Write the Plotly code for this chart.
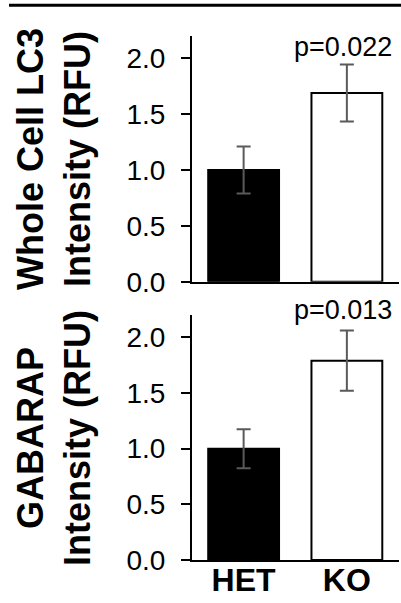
import plotly.graph_objects as go

groups = ["HET", "KO"]
lc3_mean = [1.00, 1.69]
lc3_err = [0.21, 0.255]
gabarap_mean = [1.00, 1.79]
gabarap_err = [0.175, 0.27]
p_values = ["p=0.022", "p=0.013"]
panel_titles = ["Whole Cell LC3<br>Intensity (RFU)", "GABARAP<br>Intensity (RFU)"]
y_ticks = [0.0, 0.5, 1.0, 1.5, 2.0]
y_ticktext = ["0.0", "0.5", "1.0", "1.5", "2.0"]

bar_fill = ["black", "white"]
FONT = "Liberation Sans, Arial, sans-serif"

W, H = 401, 603
def py(px):
    return 1 - px / H
def pxx(px):
    return px / W

fig = go.Figure()

for i, (means, errs) in enumerate([(lc3_mean, lc3_err), (gabarap_mean, gabarap_err)]):
    fig.add_trace(go.Bar(
        x=groups, y=means,
        xaxis="x" if i == 0 else "x2",
        yaxis="y" if i == 0 else "y2",
        marker=dict(color=bar_fill, line=dict(color="black", width=2)),
        error_y=dict(type="data", array=errs, visible=True,
                     color="#5a5a5a", thickness=2, width=7),
        showlegend=False,
    ))

xdom = [pxx(192), pxx(398.5)]
common_y = dict(range=[0, 2.2], tickvals=y_ticks, ticktext=y_ticktext,
                showline=True, linecolor="black", linewidth=2,
                ticks="outside", ticklen=9, tickwidth=2, tickcolor="black",
                showgrid=False, zeroline=False, automargin=False,
                tickfont=dict(family=FONT, size=28, color="black"),
                ticklabelstandoff=10)
common_x = dict(range=[-0.5, 1.5], domain=xdom, showline=True,
                linecolor="black", linewidth=2, ticks="", showgrid=False,
                zeroline=False, automargin=False)

fig.update_layout(
    width=W, height=H,
    margin=dict(l=0, r=0, t=0, b=0),
    paper_bgcolor="white", plot_bgcolor="white",
    bargap=0.314,
    xaxis=dict(**common_x, anchor="y", showticklabels=False),
    yaxis=dict(**common_y, domain=[py(281.7), py(36)], anchor="x"),
    xaxis2=dict(**common_x, anchor="y2", showticklabels=True,
                tickfont=dict(family=FONT, size=32, color="black", weight="bold"),
                ticklabelstandoff=-9),
    yaxis2=dict(**common_y, domain=[py(560), py(315)], anchor="x2"),
)

# p-value annotations
fig.add_annotation(x=1, y=py(47), xref="x", yref="paper", text=p_values[0],
                   showarrow=False, xshift=-4, yanchor="middle",
                   font=dict(family=FONT, size=27, color="black"))
fig.add_annotation(x=1, y=py(310), xref="x2", yref="paper", text=p_values[1],
                   showarrow=False, xshift=-4, yanchor="middle",
                   font=dict(family=FONT, size=27, color="black"))

# y-axis titles
fig.add_annotation(x=pxx(54), y=py(159), xref="paper", yref="paper",
                   text=panel_titles[0], textangle=-90, showarrow=False,
                   xanchor="center", yanchor="middle", align="center",
                   font=dict(family=FONT, size=36, color="black", weight="bold"))
fig.add_annotation(x=pxx(54), y=py(438), xref="paper", yref="paper",
                   text=panel_titles[1], textangle=-90, showarrow=False,
                   xanchor="center", yanchor="middle", align="center",
                   font=dict(family=FONT, size=36, color="black", weight="bold"))

# top rule line
fig.add_shape(type="line", xref="paper", yref="paper",
              x0=pxx(9), x1=1, y0=py(5.3), y1=py(5.3),
              line=dict(color="black", width=3))

fig.write_html("out.html")
